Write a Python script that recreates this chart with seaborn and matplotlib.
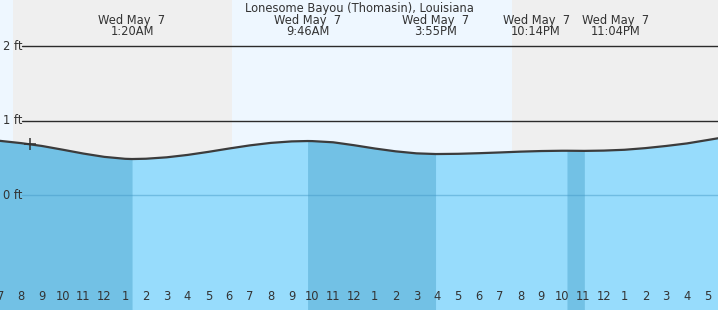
import numpy as np
import pandas as pd
import matplotlib
matplotlib.use("Agg")
import matplotlib.pyplot as plt
import matplotlib.transforms as mtransforms
import seaborn as sns

# ---------------- data ----------------
station = "Lonesome Bayou (Thomasin), Louisiana"
date_label = "Wed May  7"

# tide height (ft), hours relative to midnight of May 7
tide_hours = [-5.1, -4, -3, -2, -1, 0, 1, 1.333, 2, 3, 4, 5, 6, 7, 8, 9, 9.767,
              10, 11, 12, 13, 14, 15, 15.917, 16, 17, 18, 19, 20, 21, 22, 22.233,
              23.067, 24, 25, 26, 27, 28, 29, 29.6]
tide_feet = [0.733, 0.700, 0.662, 0.612, 0.560, 0.516, 0.490, 0.487, 0.491, 0.510,
             0.542, 0.583, 0.628, 0.670, 0.703, 0.723, 0.728,
             0.727, 0.711, 0.672, 0.628, 0.590, 0.563, 0.554, 0.554, 0.557, 0.565,
             0.575, 0.586, 0.594, 0.598, 0.598,
             0.596, 0.600, 0.611, 0.633, 0.662, 0.696, 0.742, 0.770]

event_labels = ["1:20AM", "9:46AM", "3:55PM", "10:14PM", "11:04PM"]
event_hours = [1.333, 9.767, 15.917, 22.233, 23.067]
event_kind = ["low", "high", "low", "high", "low"]

sunset_prev = -4.37
sunrise = 6.13
sunset = 19.58

now_hour = -3.55
now_feet = 0.684

tick_hours = list(range(-5, 30))
tick_labels = ["7", "8", "9", "10", "11", "12", "1", "2", "3", "4", "5", "6",
               "7", "8", "9", "10", "11", "12", "1", "2", "3", "4", "5", "6",
               "7", "8", "9", "10", "11", "12", "1", "2", "3", "4", "5"]

level_feet = [0, 1, 2]
level_labels = ["0 ft", "1 ft", "2 ft"]

# ---------------- style ----------------
W, H = 718, 310
X0, X1 = -5.012, 29.49
Y0, Y1 = -1.534, 2.616
NIGHT = "#efefef"
DAY = "#eef7ff"
WATER = "#97dcfc"
WATER_DARK = "#72c1e5"
TEXT = "#333333"
FS = 8.3

sns.set_style("white")
plt.rcParams["font.family"] = ["DejaVu Sans"]

fig = plt.figure(figsize=(W / 100, H / 100), dpi=100)
ax = fig.add_axes([0, 0, 1, 1])
ax.set_xlim(X0, X1)
ax.set_ylim(Y0, Y1)
ax.set_facecolor(NIGHT)
for s in ax.spines.values():
    s.set_visible(False)

# day / night background
ax.axvspan(X0 - 1, sunset_prev, color=DAY, lw=0, zorder=0)
ax.axvspan(sunrise, sunset, color=DAY, lw=0, zorder=0)

# water
t = np.array(tide_hours)
f = np.array(tide_feet)
ax.fill_between(t, f, Y0 - 1, color=WATER, lw=0, zorder=1)
prev_high = t[0]
for h, k in zip(event_hours, event_kind):
    if k == "high":
        prev_high = h
    else:
        m = (t >= prev_high - 1e-6) & (t <= h + 1e-6)
        ax.fill_between(t, f, Y0 - 1, where=m, color=WATER_DARK, lw=0, zorder=1.5)

# level lines
xmin_frac = 22 / W
ax.axhline(0, xmin=xmin_frac, color="#3f95c4", alpha=0.45, lw=1.0, zorder=2)
for y in level_feet[1:]:
    ax.axhline(y, xmin=xmin_frac, color="#2b2b2b", lw=1.0, zorder=2)
ytr = mtransforms.blended_transform_factory(ax.transAxes, ax.transData)
for y, lab in zip(level_feet, level_labels):
    ax.text(3 / W, y, lab, transform=ytr, ha="left", va="center",
            fontsize=FS, color=TEXT, zorder=5)

# tide curve
df = pd.DataFrame({"hour": tide_hours, "feet": tide_feet})
sns.lineplot(data=df, x="hour", y="feet", ax=ax, color="#3c3c3c", lw=1.6,
             zorder=4, sort=True)
ax.plot([now_hour], [now_feet], marker="+", ms=9, mew=1.1, color="#333333",
        zorder=5)
ax.set_xlabel("")
ax.set_ylabel("")
ax.set_xlim(X0, X1)
ax.set_ylim(Y0, Y1)

# ticks
ax.set_xticks(tick_hours)
ax.set_xticklabels([])
ax.set_yticks([])
ax.tick_params(axis="x", direction="in", length=5.8, width=1.0, color=TEXT,
               bottom=True, top=False)
for tk, h in zip(ax.xaxis.get_major_ticks(), tick_hours):
    if h % 24 == 0:
        tk.tick1line.set_markeredgewidth(2.4)

xtr = ax.get_xaxis_transform()
for h, lab in zip(tick_hours, tick_labels):
    ax.text(h, 1 - 300 / H, lab, transform=xtr, ha="center", va="baseline",
            fontsize=FS, color=TEXT, zorder=5)

# header
ax.text(0.5 * (X0 + X1), 1 - 11.7 / H, station, transform=xtr, ha="center",
        va="baseline", fontsize=FS, color=TEXT)
label_x = list(event_hours)
min_gap = 3.8
for i in range(len(label_x) - 1):
    if label_x[i + 1] - label_x[i] < min_gap:
        mid = 0.5 * (label_x[i] + label_x[i + 1])
        label_x[i] = mid - min_gap / 2
        label_x[i + 1] = mid + min_gap / 2
for x, lab in zip(label_x, event_labels):
    ax.text(x, 1 - 23.6 / H, date_label, transform=xtr, ha="center",
            va="baseline", fontsize=FS, color=TEXT)
    ax.text(x, 1 - 35.3 / H, lab, transform=xtr, ha="center",
            va="baseline", fontsize=FS, color=TEXT)

fig.savefig("out.png", dpi=100)
